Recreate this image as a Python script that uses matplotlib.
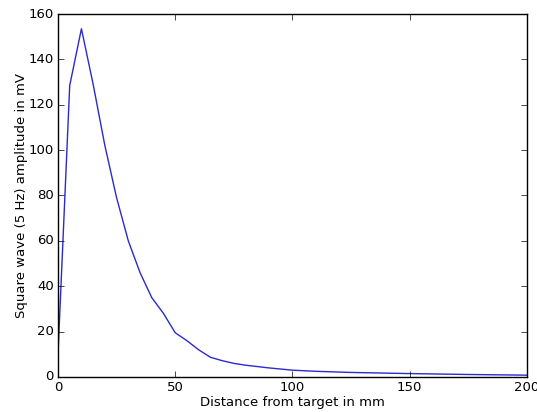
import matplotlib
matplotlib.use("Agg")
import matplotlib.pyplot as plt

plt.style.use("classic")

# distance (mm) vs. square-wave amplitude (mV)
distance_mm = [0, 5, 10, 15, 20, 25, 30, 35, 40, 45, 50, 55, 60, 65,
               70, 75, 80, 90, 100, 110, 125, 150, 175, 200]
amplitude_mv = [10, 128.5, 153.5, 129, 102, 79, 60, 46, 35, 28, 19.5, 16, 12, 8.7,
                7.2, 6.0, 5.2, 4.0, 3.0, 2.5, 2.0, 1.5, 1.1, 0.8]

fig = plt.figure(figsize=(5.37, 4.12), dpi=100, facecolor="white")
ax = fig.add_axes([0.108, 0.085, 0.873, 0.881])
ax.plot(distance_mm, amplitude_mv, color="#2a2ad0", linewidth=1.0)
ax.set_xlim(0, 200)
ax.set_ylim(0, 160)
ax.set_xlabel("Distance from target in mm", fontsize=9.5, labelpad=1)
ax.set_ylabel("Square wave (5 Hz) amplitude in mV", fontsize=9.5, labelpad=0)
ax.tick_params(labelsize=9.5, pad=3)

fig.savefig("out.png", dpi=100, facecolor="white")
